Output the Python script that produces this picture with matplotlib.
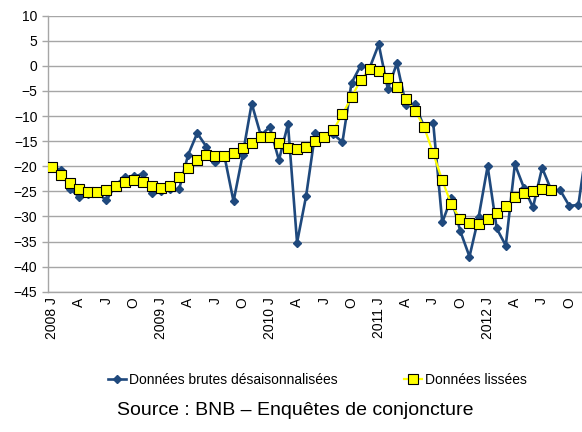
import matplotlib
matplotlib.use("Agg")
import matplotlib.pyplot as plt

plt.rcParams['font.family'] = ['Liberation Sans Narrow', 'Liberation Sans', 'DejaVu Sans']

# monthly, Jan 2008 .. Dec 2012
brutes = [-20.0, -20.8, -24.6, -26.1, -25.6, -25.3, -26.8, -23.7, -22.2, -22.0, -21.6, -25.4,
          -25.0, -24.6, -24.6, -17.7, -13.4, -16.1, -19.2, -18.0, -27.0, -17.8, -7.5, -13.8,
          -12.2, -18.8, -11.6, -35.2, -25.9, -13.3, -14.0, -13.6, -15.2, -3.4, 0.0, -0.4,
          4.3, -4.6, 0.5, -7.8, -7.6, -12.2, -11.3, -31.2, -26.3, -33.0, -38.0, -30.2,
          -20.0, -32.4, -35.8, -19.6, -24.3, -28.2, -20.3, -24.7, -24.8, -27.9, -27.7, -15.0]

lissees = [-20.1, -21.8, -23.3, -24.5, -25.1, -25.1, -24.7, -23.9, -23.1, -22.8, -23.2, -23.9,
           -24.3, -24.0, -22.1, -20.4, -18.7, -17.8, -17.9, -17.9, -17.3, -16.4, -15.3, -14.1,
           -14.2, -15.4, -16.3, -16.6, -16.2, -15.0, -14.2, -12.8, -9.6, -6.3, -2.8, -0.7,
           -1.0, -2.4, -4.2, -6.6, -8.9, -12.2, -17.4, -22.8, -27.6, -30.6, -31.4, -31.5,
           -30.5, -29.3, -27.9, -26.1, -25.4, -25.0, -24.6, -24.7]

years = ['2008', '2009', '2010', '2011', '2012']
quarters = ['J', 'A', 'J', 'O']
xlabels = []
for y in years:
    for i, q in enumerate(quarters):
        xlabels.append(f"{y} {q}" if i == 0 else q)

fig = plt.figure(figsize=(5.82, 4.32), dpi=100)
# plot area runs past the right edge of the picture, like the original
ax = fig.add_axes([47.5 / 582, 140.3 / 432, 544.5 / 582, 276 / 432])

grey = '#a6a6a6'
ax.plot(range(len(brutes)), brutes, color='#1f497d', lw=1.9, marker='D', ms=4.5,
        label='Données brutes désaisonnalisées', zorder=3)
ax.plot(range(len(lissees)), lissees, color='#ffff00', lw=1.6, marker='s', ms=6.5,
        mfc='#ffff00', mec='black', mew=0.8, label='Données lissées', zorder=4)

ax.set_xlim(-0.5, 59.5)
ax.set_ylim(-45, 10)
ax.set_yticks(range(-45, 11, 5))
ax.yaxis.grid(True, color=grey, lw=1.0)
ax.set_axisbelow(True)
ax.set_xticks(range(0, 60, 3))
ax.set_xticklabels(xlabels, rotation=90, fontsize=10)
ax.tick_params(axis='x', length=0, pad=4)
ax.tick_params(axis='y', length=4.3, width=1.0, color=grey, labelsize=10, pad=3)

for s in ['top', 'right']:
    ax.spines[s].set_visible(False)
for s in ['left', 'bottom']:
    ax.spines[s].set_color(grey)
    ax.spines[s].set_linewidth(1.0)

fig.legend(loc='center', bbox_to_anchor=(0.545, 0.12), ncol=2, frameon=False,
           fontsize=10, handlelength=1.3, handletextpad=0.2, columnspacing=4.8)
fig.text(0.507, 0.049, 'Source : BNB – Enquêtes de conjoncture', ha='center', va='center',
         fontsize=14)

fig.savefig('out.png', dpi=100)
